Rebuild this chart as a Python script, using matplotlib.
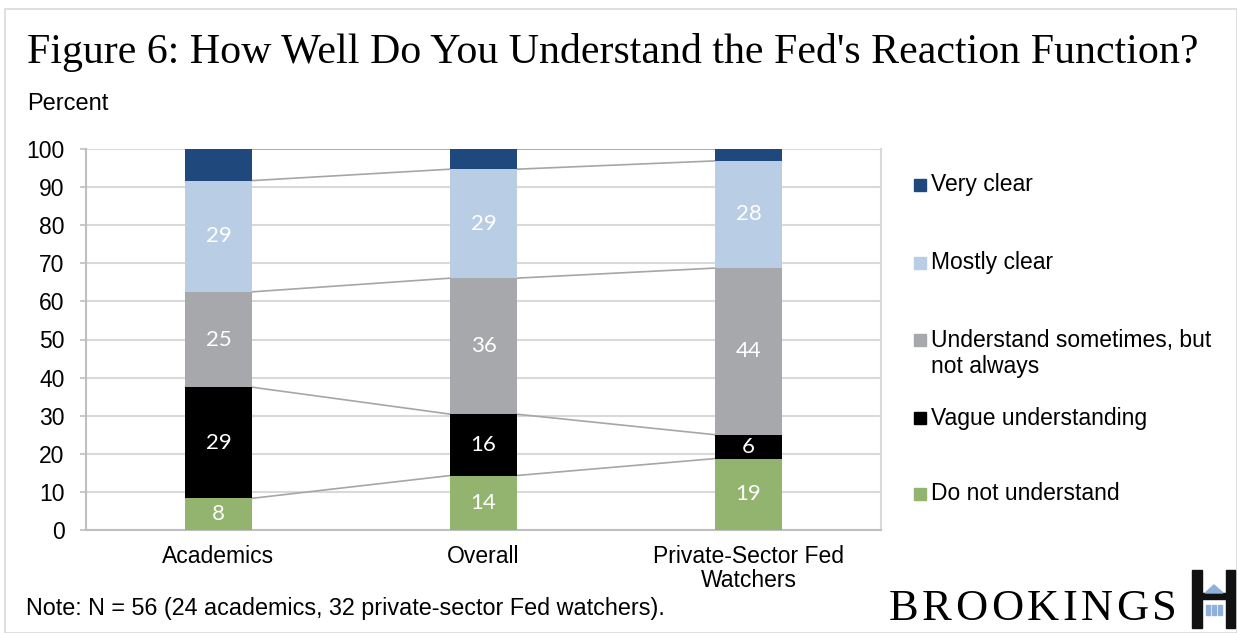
import numpy as np
import matplotlib
matplotlib.use("Agg")
import matplotlib.pyplot as plt
from matplotlib.patches import Rectangle, Polygon

# survey shares (percent), stacked bottom -> top
groups = ["Academics", "Overall", "Private-Sector Fed\nWatchers"]
series = ["Do not understand", "Vague understanding",
          "Understand sometimes, but\nnot always", "Mostly clear", "Very clear"]
do_not = [8.3, 14.3, 18.75]
vague = [29.2, 16.1, 6.25]
sometimes = [25.0, 35.7, 43.75]
mostly = [29.2, 28.6, 28.13]
very = [8.3, 5.3, 3.12]
colors = ["#92b46f", "#000000", "#a7a8ab", "#b9cde5", "#1f497d"]
labelled = [True, True, True, True, False]

stack = np.array([do_not, vague, sometimes, mostly, very])

SANS = "Liberation Sans"
SERIF = "Liberation Serif"

fig = plt.figure(figsize=(12.37, 6.33), dpi=100)
W, H = 1237, 633

def fx(px):
    return px / W

def fy(py):
    return 1 - py / H

# thin frame round the whole graphic
fig.patches.append(Rectangle((fx(5), 0), 1 - fx(5), fy(9), transform=fig.transFigure,
                             fill=False, edgecolor="#d9d9d9", linewidth=1.2))

ax = fig.add_axes([fx(86), fy(530), fx(881) - fx(86), fy(149) - fy(530)])

x = np.arange(len(groups))
bw = 0.25
bottom = np.zeros(len(groups))
for i, vals in enumerate(stack):
    ax.bar(x, vals, bw, bottom=bottom, color=colors[i], zorder=3)
    if labelled[i]:
        for xi, b, v in zip(x, bottom, vals):
            ax.text(xi, b + v / 2, f"{v:.0f}", ha="center", va="center",
                    color="white", fontsize=16, family="Lato", zorder=4)
    bottom = bottom + vals
    # series lines between neighbouring bars
    for j in range(len(groups) - 1):
        ax.plot([x[j] + bw / 2, x[j + 1] - bw / 2], [bottom[j], bottom[j + 1]],
                color="#a6a6a6", linewidth=1.2, zorder=2)

ax.set_xlim(-0.5, 2.5)
ax.set_ylim(0, 100)
ax.set_yticks(range(0, 101, 10))
ax.set_xticks(x)
ax.set_xticklabels(groups, fontsize=16.5, family=SANS, linespacing=1.05)
ax.tick_params(axis="x", length=0, pad=11)
ax.tick_params(axis="y", length=4.5, width=1.2, color="#bfbfbf", labelsize=16.5, pad=11)
for lab in ax.get_yticklabels():
    lab.set_family(SANS)
ax.grid(axis="y", color="#d9d9d9", linewidth=1.5, zorder=0)
for side in ["left", "bottom"]:
    ax.spines[side].set_color("#bfbfbf")
    ax.spines[side].set_linewidth(1.5)
ax.spines["right"].set_color("#d9d9d9")
ax.spines["right"].set_linewidth(1.5)
ax.spines["top"].set_visible(False)

# legend drawn by hand, top entry first
leg_y = [185, 263, 340, 418, 494]
for name, c, yy in zip(series[::-1], colors[::-1], leg_y):
    fig.patches.append(Rectangle((fx(914), fy(yy + 6)), fx(12), 12 / H,
                                 transform=fig.transFigure, color=c))
    for k, line in enumerate(name.split("\n")):
        fig.text(fx(931), fy(yy + 26 * k), line, ha="left", va="center",
                 fontsize=16.5, family=SANS)

fig.text(fx(27), fy(52), "Figure 6: How Well Do You Understand the Fed's Reaction Function?",
         ha="left", va="center", fontsize=30.2, family=SERIF)
fig.text(fx(27), fy(104), "Percent", ha="left", va="center", fontsize=17, family=SANS)
fig.text(fx(26), fy(609), "Note: N = 56 (24 academics, 32 private-sector Fed watchers).",
         ha="left", va="center", fontsize=16.8, family=SANS)

# logo wordmark, letters spread out to the mark's width
word = "BROOKINGS"
renderer = fig.canvas.get_renderer()
letters = [fig.text(0, 0, ch, fontsize=32, family=SERIF, va="baseline") for ch in word]
widths = [t.get_window_extent(renderer).width for t in letters]
x0, x1 = 889, 1177
gap = (x1 - x0 - sum(widths)) / (len(word) - 1)
pos = x0
for t, w in zip(letters, widths):
    t.set_position((fx(pos), fy(620)))
    pos += w + gap

fig.patches.append(Rectangle((fx(1192), fy(628)), fx(10), 58 / H, transform=fig.transFigure,
                             color="#111111"))
fig.patches.append(Rectangle((fx(1226), fy(628)), fx(9), 58 / H, transform=fig.transFigure,
                             color="#111111"))
fig.patches.append(Rectangle((fx(1202), fy(599)), fx(24), 6 / H, transform=fig.transFigure,
                             color="#111111"))
fig.patches.append(Polygon([(fx(1205), fy(593)), (fx(1223), fy(593)), (fx(1214), fy(585))],
                           closed=True, transform=fig.transFigure, color="#8fb0d8"))
for cx in [1206, 1212, 1218]:
    fig.patches.append(Rectangle((fx(cx), fy(615)), fx(4), 10 / H,
                                 transform=fig.transFigure, color="#8fb0d8"))

fig.savefig("out.png", dpi=100)
